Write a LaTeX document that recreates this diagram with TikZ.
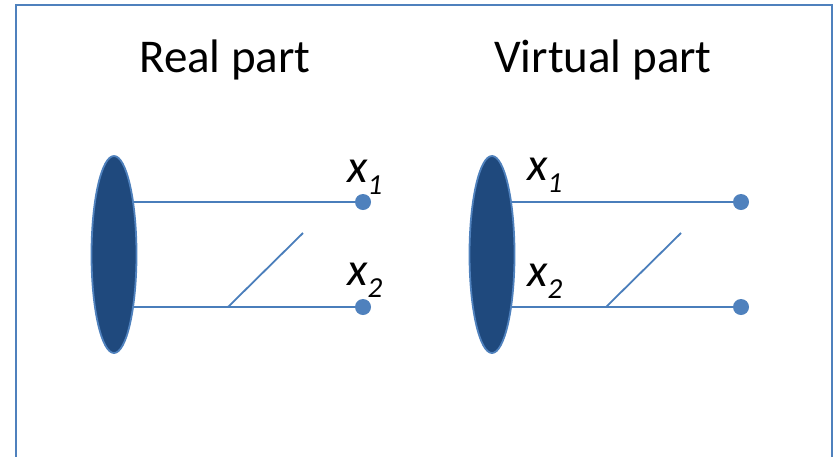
\documentclass[tikz,border=0pt]{standalone}
\usepackage{fontspec}
\setmainfont{Carlito}
\usetikzlibrary{shapes.geometric}
\definecolor{frameblue}{HTML}{4F81BD}
\definecolor{lineblue}{HTML}{4A7EBB}
\definecolor{darkblue}{HTML}{1F497D}
\tikzset{
  x=1pt, y=-1pt,
  blob/.style={ellipse, draw=frameblue, line width=1.8pt, fill=darkblue, minimum width=45pt, minimum height=197pt, inner sep=0pt},
  enddot/.style={circle, fill=frameblue, minimum size=16pt, inner sep=0pt},
  wire/.style={lineblue, line width=2.4pt},
  title/.style={font=\fontsize{47}{52}\selectfont, inner sep=0pt, anchor=base},
  lab/.style={font=\fontsize{47}{50}\selectfont\itshape, inner sep=0pt, anchor=base west},
}
\newcommand{\xsub}[1]{x\raisebox{-0.26em}{\fontsize{29}{30}\selectfont #1}}
\begin{document}
\begin{tikzpicture}
\useasboundingbox (0,0) rectangle (834,456);
\draw[frameblue, line width=2.2pt] (16,470) -- (16,5) -- (832,5) -- (832,470);
% titles
\node[title] (t1) at (225,72) {Real part};
\node[title] (t2) at (603,72) {Virtual part};
% left diagram
\node[enddot] (d1) at (363,202) {};
\node[enddot] (d2) at (363,307) {};
\coordinate (ec1) at (114,254.5);
\draw[wire] (ec1 |- d1) -- (d1);
\draw[wire] (ec1 |- d2) -- (d2);
\coordinate (s1a) at (228,307);
\coordinate (s1b) at (303,233);
\draw[wire, line width=1.8pt] (s1a) -- (s1b);
\node[blob] (e1) at (ec1) {};
\node[lab] (l1) at (347,182) {\xsub{1}};
\node[lab] (l2) at (347,285) {\xsub{2}};
% right diagram
\node[enddot] (d3) at (741,202) {};
\node[enddot] (d4) at (741,307) {};
\coordinate (ec2) at (492,254.5);
\draw[wire] (ec2 |- d3) -- (d3);
\draw[wire] (ec2 |- d4) -- (d4);
\coordinate (s2a) at (606,307);
\coordinate (s2b) at (681,233);
\draw[wire, line width=1.8pt] (s2a) -- (s2b);
\node[blob] (e2) at (ec2) {};
\node[lab] (l3) at (527,180) {\xsub{1}};
\node[lab] (l4) at (527,286) {\xsub{2}};
\end{tikzpicture}
\end{document}
